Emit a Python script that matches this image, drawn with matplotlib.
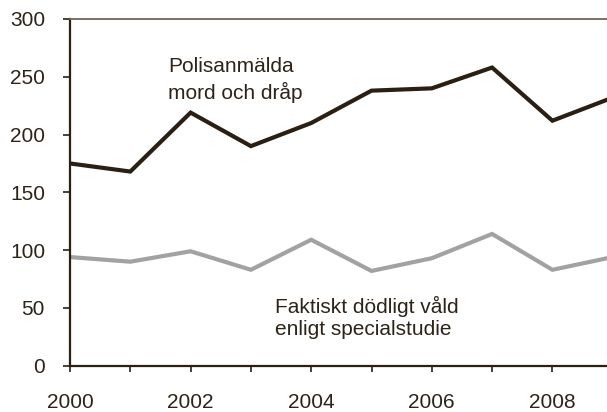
import matplotlib
matplotlib.use("Agg")
import matplotlib.pyplot as plt

years = [2000, 2001, 2002, 2003, 2004, 2005, 2006, 2007, 2008, 2009]
polis = [175, 168, 219, 190, 210, 238, 240, 258, 212, 232]
faktiskt = [94, 90, 99, 83, 109, 82, 93, 114, 83, 94]
xticks_major = [2000, 2002, 2004, 2006, 2008]
xticks_minor = [2001, 2003, 2005, 2007]
yticks = [0, 50, 100, 150, 200, 250, 300]
label_polis = "Polisanmälda\nmord och dråp"
label_fakt = "Faktiskt dödligt våld\nenligt specialstudie"

dark = "#2b1f14"
gray = "#a2a2a2"
textc = "#2d2319"

plt.rcParams['font.family'] = ['Liberation Sans', 'DejaVu Sans']

fig = plt.figure(figsize=(6.07, 4.12), dpi=100)
ax = fig.add_axes([70/607, 46.3/412, 537/607, 346.7/412])

ax.plot(years, polis, color=dark, lw=3.0, solid_joinstyle='miter')
ax.plot(years, faktiskt, color=gray, lw=3.0, solid_joinstyle='miter')

ax.set_xlim(2000, 2000 + 537/60.3)
ax.set_ylim(0, 300)
ax.set_yticks(yticks)
ax.set_xticks(xticks_major)
ax.set_xticks(xticks_minor, minor=True)

ax.spines['right'].set_visible(False)
ax.spines['top'].set_color('#6e665a')
ax.spines['top'].set_linewidth(1.3)
ax.spines['left'].set_color(dark)
ax.spines['left'].set_linewidth(1.6)
ax.spines['bottom'].set_color(dark)
ax.spines['bottom'].set_linewidth(1.6)

ax.tick_params(axis='y', direction='out', length=5, width=1.2, color=dark,
               pad=13, labelsize=15, labelcolor=textc)
ax.tick_params(axis='x', which='both', direction='out', length=4.5, width=1.2,
               color=dark, pad=15, labelsize=15, labelcolor=textc)

ax.text(2001.63, 267, label_polis, fontsize=15, color=textc,
        ha='left', va='top', linespacing=1.35)
ax.text(2003.4, 60, label_fakt, fontsize=15, color=textc,
        ha='left', va='top', linespacing=1.15)

fig.savefig("out.png", dpi=100)
